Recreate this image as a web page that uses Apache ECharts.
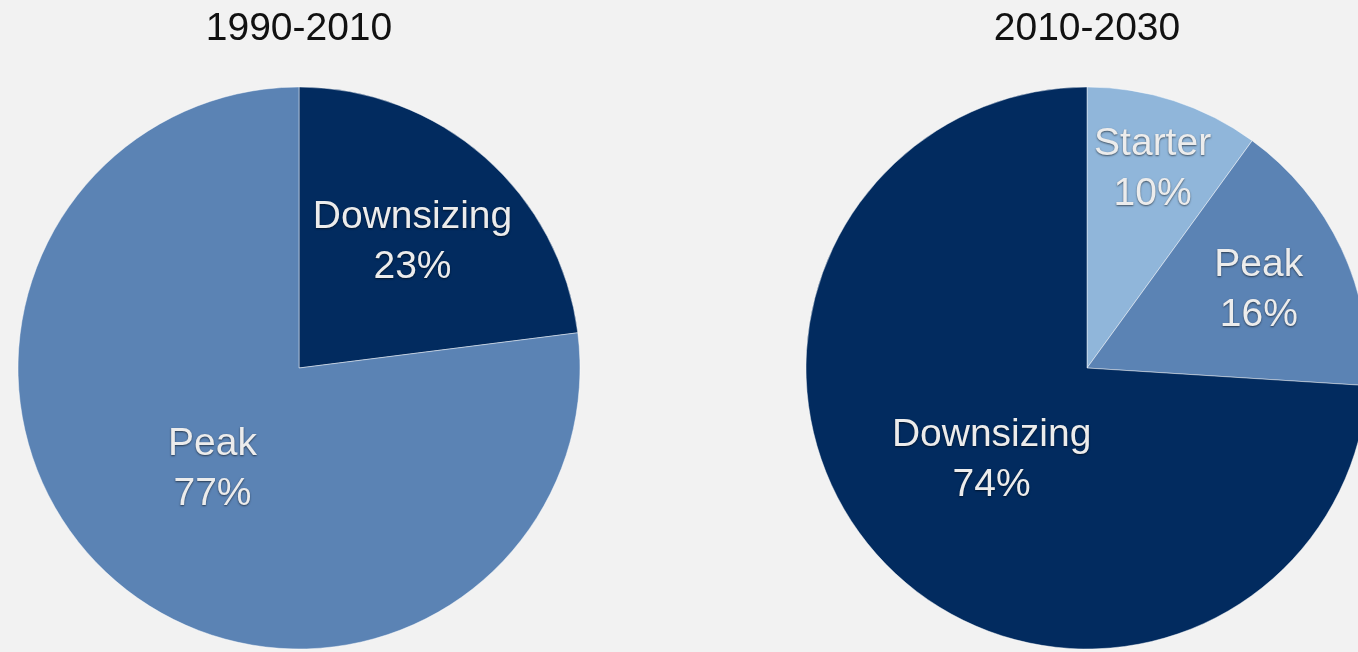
<!DOCTYPE html>
<html>
<head>
<meta charset="utf-8">
<script src="https://cdn.jsdelivr.net/npm/echarts@6/dist/echarts.min.js"></script>
<style>
  html, body { margin: 0; padding: 0; background: #f2f2f2; }
  #chart { width: 1358px; height: 652px; }
</style>
</head>
<body>
<div id="chart"></div>
<script>
// Household life-stage shares for two periods
const periods = ['1990-2010', '2010-2030'];
const leftNames = ['Downsizing', 'Peak'];
const leftValues = [23, 77];
const rightNames = ['Starter', 'Peak', 'Downsizing'];
const rightValues = [10, 16, 74];

const colors = { Downsizing: '#022b5f', Peak: '#5b83b4', Starter: '#90b6da' };
// how far out along the radius each label sits (fraction of radius)
const labelRadius = [
  { Downsizing: 0.60, Peak: 0.455 },
  { Starter: 0.745, Peak: 0.665, Downsizing: 0.455 }
];
const R = 281;
const centers = [[299, 368], [1087, 368]];

function midAngles(values) {
  const total = values.reduce((a, b) => a + b, 0);
  let acc = 0;
  return values.map(v => {
    const mid = (acc + v / 2) / total * Math.PI * 2;
    acc += v;
    return mid;
  });
}

function makeSeries(idx, names, values) {
  const mids = midAngles(values);
  return {
    type: 'pie',
    center: centers[idx],
    radius: R,
    startAngle: 90,
    clockwise: true,
    silent: true,
    animation: false,
    data: names.map((n, i) => ({ name: n, value: values[i], itemStyle: { color: colors[n] } })),
    itemStyle: { borderColor: 'rgba(255,255,255,0.45)', borderWidth: 1 },
    label: {
      show: true,
      position: 'inside',
      formatter: '{b}\n{c}%',
      fontFamily: 'Liberation Sans, Arial, sans-serif',
      fontSize: 39,
      lineHeight: 50,
      color: '#ececec',
      textShadowColor: 'rgba(0,0,0,0.55)',
      textShadowBlur: 2,
      textShadowOffsetX: 0,
      textShadowOffsetY: 1
    },
    labelLine: { show: false },
    labelLayout: function (p) {
      const name = names[p.dataIndex];
      const f = labelRadius[idx][name] - 0.5;
      const a = mids[p.dataIndex];
      return { dx: f * R * Math.sin(a), dy: -f * R * Math.cos(a) + 3 };
    }
  };
}

const chart = echarts.init(document.getElementById('chart'), null, { renderer: 'canvas' });
chart.setOption({
  backgroundColor: '#f2f2f2',
  title: periods.map((t, i) => ({
    text: t,
    left: centers[i][0],
    top: 10,
    padding: 0,
    textAlign: 'center',
    textStyle: { fontFamily: 'Liberation Sans, Arial, sans-serif', fontSize: 39, fontWeight: 'normal', color: '#111' }
  })),
  series: [
    makeSeries(0, leftNames, leftValues),
    makeSeries(1, rightNames, rightValues)
  ]
});
</script>
</body>
</html>
